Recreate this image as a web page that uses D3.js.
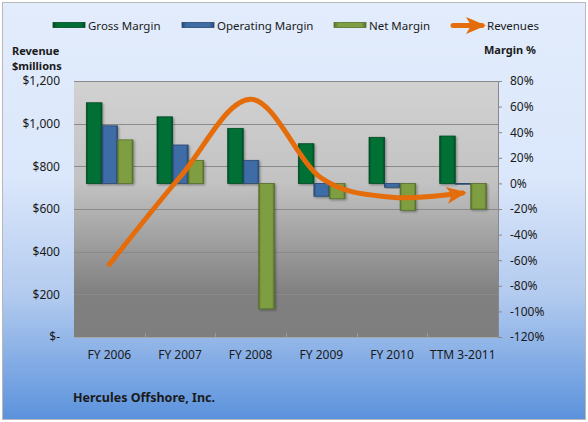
<!DOCTYPE html>
<html>
<head>
<meta charset="utf-8">
<script src="https://cdn.jsdelivr.net/npm/d3@7"></script>
<style>
  body { margin: 0; background: #fff; }
  text { font-family: "Noto Sans", "Open Sans", sans-serif; fill: #1a1a1a; }
</style>
</head>
<body>
<div id="chart"></div>
<script>
const width = 588
const height = 422

// data
const categories = ["FY 2006", "FY 2007", "FY 2008", "FY 2009", "FY 2010", "TTM 3-2011"]
const seriesNames = ["Gross Margin", "Operating Margin", "Net Margin"]
const grossMargin = [63, 52, 43, 31, 36, 37]
const operatingMargin = [45, 30, 18, -10, -3, -0.5]
const netMargin = [34, 18, -98, -12, -21, -20]
const revenues = [340, 750, 1115, 745, 655, 675]
const revenueTicks = [0, 200, 400, 600, 800, 1000, 1200]
const marginTicks = [-120, -100, -80, -60, -40, -20, 0, 20, 40, 60, 80]

const colors = {
  "Gross Margin": { fill: "#006f35", dark: "#004a22" },
  "Operating Margin": { fill: "#3e6ca6", dark: "#29476e" },
  "Net Margin": { fill: "#7f9e42", dark: "#55702b" }
}
const lineColor = "#e46c0a"

const plot = { left: 74, right: 498, top: 81, bottom: 337 }

const svg = d3.select("#chart")
  .append("svg")
    .attr("width", width)
    .attr("height", height)

const defs = svg.append("defs")

const bg = defs.append("linearGradient").attr("id", "bg").attr("x1", 0).attr("y1", 0).attr("x2", 0).attr("y2", 1)
bg.append("stop").attr("offset", 0).attr("stop-color", "#e2ecfc")
bg.append("stop").attr("offset", 0.42).attr("stop-color", "#dbe7fb")
bg.append("stop").attr("offset", 0.7).attr("stop-color", "#b3cbef")
bg.append("stop").attr("offset", 1).attr("stop-color", "#5b92dc")

const pg = defs.append("linearGradient").attr("id", "plotbg").attr("x1", 0).attr("y1", 0).attr("x2", 0).attr("y2", 1)
pg.append("stop").attr("offset", 0).attr("stop-color", "#d2d2d2")
pg.append("stop").attr("offset", 0.4).attr("stop-color", "#c2c2c2")
pg.append("stop").attr("offset", 0.83).attr("stop-color", "#808080")
pg.append("stop").attr("offset", 1).attr("stop-color", "#7e7e7e")

seriesNames.forEach((s, i) => {
  const g = defs.append("linearGradient").attr("id", "bar" + i).attr("x1", 0).attr("y1", 0).attr("x2", 1).attr("y2", 0)
  g.append("stop").attr("offset", 0).attr("stop-color", colors[s].dark)
  g.append("stop").attr("offset", 0.14).attr("stop-color", colors[s].fill)
  g.append("stop").attr("offset", 0.86).attr("stop-color", colors[s].fill)
  g.append("stop").attr("offset", 1).attr("stop-color", colors[s].dark)
})

const shadow = defs.append("filter").attr("id", "shadow").attr("x", "-20%").attr("y", "-20%").attr("width", "150%").attr("height", "150%")
shadow.append("feDropShadow").attr("dx", 1.2).attr("dy", 1.2).attr("stdDeviation", 1)
  .attr("flood-color", "#000").attr("flood-opacity", 0.35)

defs.append("marker")
    .attr("id", "arrow")
    .attr("markerUnits", "userSpaceOnUse")
    .attr("viewBox", "0 0 20 17")
    .attr("markerWidth", 20)
    .attr("markerHeight", 17)
    .attr("refX", 16)
    .attr("refY", 8.5)
    .attr("orient", "auto")
  .append("path")
    .attr("d", "M0,0 L20,8.5 L0,17 L5,8.5 Z")
    .attr("fill", lineColor)

// chart background
svg.append("rect")
  .attr("x", 2.5).attr("y", 2.5)
  .attr("width", width - 5).attr("height", height - 5)
  .attr("fill", "url(#bg)")
  .attr("stroke", "#b8b8b8")

// scales
const x0 = d3.scaleBand()
  .domain(categories)
  .range([plot.left, plot.right])

const x1 = d3.scaleBand()
  .domain(seriesNames)
  .range([x0.bandwidth() * 0.175, x0.bandwidth() * 0.835])

const yL = d3.scaleLinear().domain([0, 1200]).range([plot.bottom, plot.top])
const yR = d3.scaleLinear().domain([-120, 80]).range([plot.bottom, plot.top])

// plot area
svg.append("rect")
  .attr("x", plot.left).attr("y", plot.top)
  .attr("width", plot.right - plot.left).attr("height", plot.bottom - plot.top)
  .attr("fill", "url(#plotbg)")

// gridlines from left axis
svg.append("g")
  .selectAll("line")
  .data(revenueTicks)
  .join("line")
    .attr("x1", plot.left).attr("x2", plot.right)
    .attr("y1", d => Math.round(yL(d)) + 0.5)
    .attr("y2", d => Math.round(yL(d)) + 0.5)
    .attr("stroke", d => d === 0 ? "#a6a6a6" : "#8a8a8a")
    .attr("stroke-width", 1)

// category boundary ticks on bottom
svg.append("g")
  .selectAll("line")
  .data(categories.slice(1))
  .join("line")
    .attr("x1", d => Math.round(x0(d)) + 0.5).attr("x2", d => Math.round(x0(d)) + 0.5)
    .attr("y1", plot.bottom - 4).attr("y2", plot.bottom)
    .attr("stroke", "#9a9a9a")

// left axis labels
const leftAxis = svg.append("g")
  .attr("transform", `translate(${plot.left},0)`)
  .call(d3.axisLeft(yL).tickValues(revenueTicks).tickSize(0).tickPadding(14)
    .tickFormat(d => d === 0 ? "$-" : "$" + d3.format(",")(d)))
leftAxis.select(".domain").remove()
leftAxis.selectAll("text").style("font-size", "12px").attr("fill", "#1a1a1a")

// right axis
const rightAxis = svg.append("g")
  .attr("transform", `translate(${plot.right},0)`)
  .call(d3.axisRight(yR).tickValues(marginTicks).tickSize(4).tickPadding(8)
    .tickFormat(d => d + "%"))
rightAxis.select(".domain").attr("stroke", "#888").attr("d", `M0.5,${plot.top}V${plot.bottom}`)
rightAxis.selectAll(".tick line").attr("stroke", "#888")
rightAxis.selectAll("text").style("font-size", "12px").attr("fill", "#1a1a1a")

// category labels
svg.append("g")
  .selectAll("text")
  .data(categories)
  .join("text")
    .attr("x", d => x0(d) + x0.bandwidth() / 2)
    .attr("y", 359)
    .attr("text-anchor", "middle")
    .style("font-size", "12px")
    .text(d => d)

// bars
const barData = categories.map((c, i) => ({
  cat: c,
  values: [grossMargin[i], operatingMargin[i], netMargin[i]]
}))

svg.append("g")
  .selectAll("g")
  .data(barData)
  .join("g")
    .attr("transform", d => `translate(${x0(d.cat)},0)`)
  .selectAll("rect")
  .data(d => d.values.map((v, j) => ({ series: seriesNames[j], j: j, v: v })))
  .join("rect")
    .attr("x", d => x1(d.series))
    .attr("width", x1.bandwidth())
    .attr("y", d => yR(Math.max(0, d.v)))
    .attr("height", d => Math.max(0.8, Math.abs(yR(d.v) - yR(0))))
    .attr("fill", d => `url(#bar${d.j})`)
    .attr("stroke", d => colors[d.series].dark)
    .attr("stroke-width", 0.8)
    .attr("filter", "url(#shadow)")

// revenue line
const line = d3.line()
  .x((d, i) => x0(categories[i]) + x0.bandwidth() / 2)
  .y(d => yL(d))
  .curve(d3.curveCardinal.tension(0))

svg.append("path")
  .datum(revenues)
  .attr("d", line)
  .attr("fill", "none")
  .attr("stroke", lineColor)
  .attr("stroke-width", 5)
  .attr("stroke-linecap", "round")
  .attr("marker-end", "url(#arrow)")

// axis titles
svg.append("text").attr("x", 12).attr("y", 55).style("font-size", "11px").style("font-weight", "bold").text("Revenue")
svg.append("text").attr("x", 12).attr("y", 70).style("font-size", "11px").style("font-weight", "bold").text("$millions")
svg.append("text").attr("x", 484).attr("y", 54).style("font-size", "11px").style("font-weight", "bold").text("Margin %")

// company label
svg.append("text")
  .attr("x", 73).attr("y", 402)
  .style("font-size", "12.5px").style("font-weight", "bold")
  .text("Hercules Offshore, Inc.")

// legend
const legendItems = [
  { name: "Gross Margin", x: 53 },
  { name: "Operating Margin", x: 182 },
  { name: "Net Margin", x: 334 }
]
const legend = svg.append("g")
legend.selectAll("rect")
  .data(legendItems)
  .join("rect")
    .attr("x", d => d.x).attr("y", 22.5)
    .attr("width", 32).attr("height", 5)
    .attr("fill", (d, i) => `url(#bar${i})`)
    .attr("stroke", d => colors[d.name].dark)
    .attr("stroke-width", 0.8)
legend.selectAll("text.item")
  .data(legendItems)
  .join("text")
    .attr("class", "item")
    .attr("x", d => d.x + 35).attr("y", 30)
    .style("font-size", "11.5px")
    .text(d => d.name)

legend.append("line")
  .attr("x1", 453).attr("x2", 482)
  .attr("y1", 25.5).attr("y2", 25.5)
  .attr("stroke", lineColor).attr("stroke-width", 5)
  .attr("stroke-linecap", "round")
  .attr("marker-end", "url(#arrow)")
legend.append("text")
  .attr("x", 487).attr("y", 30)
  .style("font-size", "11.5px")
  .text("Revenues")
</script>
</body>
</html>
